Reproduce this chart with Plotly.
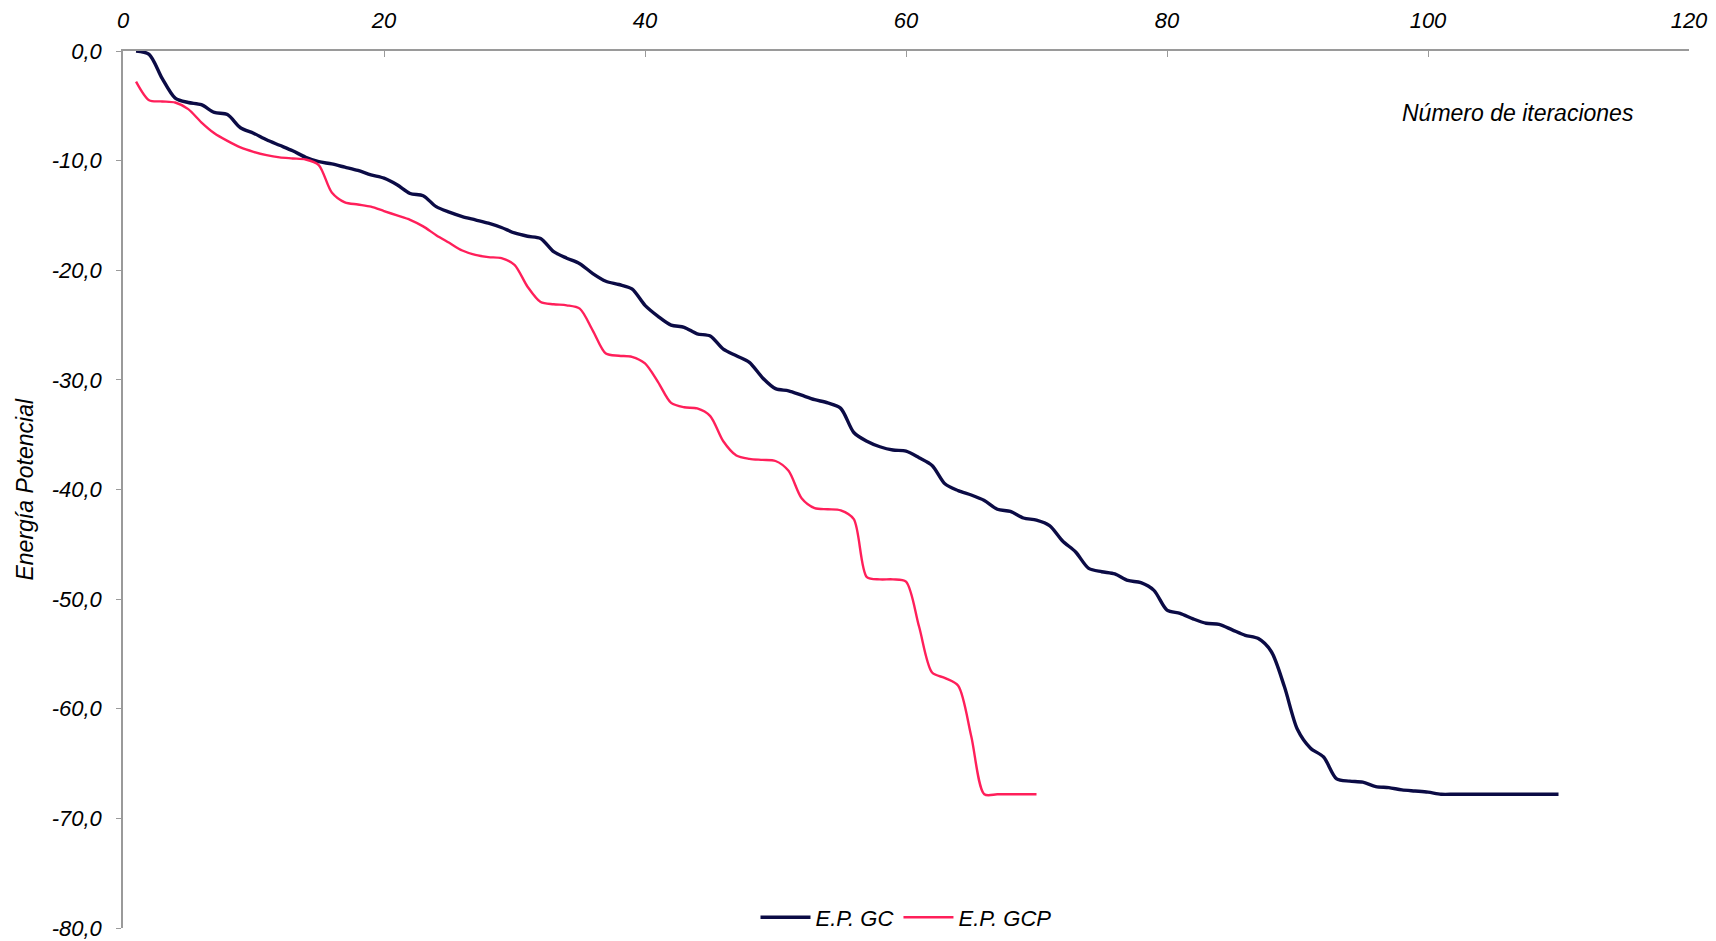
import plotly.graph_objects as go

# ---- data ----
iter_gc = list(range(1, 111))
ep_gc = [
    0.0, -0.3, -2.5, -4.3, -4.7, -4.9, -5.6, -5.8, -7.0, -7.5,
    -8.1, -8.6, -9.1, -9.7, -10.1, -10.3, -10.6, -10.9, -11.3, -11.6,
    -12.2, -13.0, -13.2, -14.2, -14.7, -15.1, -15.4, -15.7, -16.1, -16.6,
    -16.9, -17.1, -18.3, -18.9, -19.4, -20.3, -21.0, -21.3, -21.7, -23.2,
    -24.2, -25.0, -25.2, -25.8, -26.0, -27.2, -27.8, -28.4, -29.8, -30.8,
    -31.0, -31.4, -31.8, -32.1, -32.6, -34.8, -35.6, -36.1, -36.4, -36.5,
    -37.1, -37.8, -39.5, -40.1, -40.5, -41.0, -41.8, -42.0, -42.6, -42.8,
    -43.3, -44.7, -45.7, -47.2, -47.5, -47.7, -48.3, -48.5, -49.2, -51.0,
    -51.3, -51.8, -52.2, -52.3, -52.8, -53.3, -53.6, -54.8, -58.0, -61.9,
    -63.6, -64.4, -66.4, -66.6, -66.7, -67.1, -67.2, -67.4, -67.5, -67.6,
    -67.8, -67.8, -67.8, -67.8, -67.8, -67.8, -67.8, -67.8, -67.8, -67.8,
]

iter_gcp = list(range(1, 71))
ep_gcp = [
    -2.8, -4.5, -4.6, -4.7, -5.3, -6.5, -7.5, -8.2, -8.8, -9.2,
    -9.5, -9.7, -9.8, -9.9, -10.4, -12.9, -13.8, -14.0, -14.2, -14.6,
    -15.0, -15.4, -16.0, -16.8, -17.5, -18.2, -18.6, -18.8, -18.9, -19.5,
    -21.5, -22.9, -23.1, -23.2, -23.5, -25.5, -27.6, -27.8, -27.9, -28.5,
    -30.2, -32.1, -32.5, -32.6, -33.3, -35.6, -36.9, -37.2, -37.3, -37.4,
    -38.3, -40.8, -41.7, -41.8, -41.9, -42.7, -48.0, -48.2, -48.2, -48.4,
    -52.5, -56.7, -57.2, -57.9, -62.5, -67.8, -67.8, -67.8, -67.8, -67.8,
]

series_names = ["E.P. GC", "E.P. GCP"]
x_tickvals = [0, 20, 40, 60, 80, 100, 120]
x_ticktext = ["0", "20", "40", "60", "80", "100", "120"]
y_tickvals = [0, -10, -20, -30, -40, -50, -60, -70, -80]
y_ticktext = ["0,0", "-10,0", "-20,0", "-30,0", "-40,0", "-50,0", "-60,0", "-70,0", "-80,0"]
x_title = "Número de iteraciones"
y_title = "Energía Potencial"

FAM = "Liberation Sans, Arial, sans-serif"
TXT = "#000000"
TICK_SIZE = 22
TITLE_SIZE = 23

fig = go.Figure()
fig.add_trace(go.Scatter(
    x=iter_gc, y=ep_gc, name=series_names[0], mode="lines",
    line=dict(color="#0b0b45", width=3.4, shape="spline", smoothing=0.8),
))
fig.add_trace(go.Scatter(
    x=iter_gcp, y=ep_gcp, name=series_names[1], mode="lines",
    line=dict(color="#ff1f5a", width=2.4, shape="spline", smoothing=0.8),
))

# page body has an 8px default margin, so the figure is sized/offset for it
fig.update_layout(
    width=1708, height=933,
    margin=dict(l=115, r=27, t=43, b=13, autoexpand=False),
    paper_bgcolor="white", plot_bgcolor="white",
    font=dict(family=FAM, size=TICK_SIZE, color=TXT, style="italic"),
    showlegend=True,
    legend=dict(
        orientation="h", x=0.5, y=0.012, xanchor="center", yanchor="middle",
        font=dict(family=FAM, size=TICK_SIZE, color=TXT, style="italic"),
        bgcolor="rgba(0,0,0,0)", itemwidth=50, tracegroupgap=0,
    ),
    xaxis=dict(
        range=[0, 120], side="top", tickvals=x_tickvals, ticktext=x_ticktext,
        showgrid=False, zeroline=False, showline=True, linecolor="#9a9a9a", linewidth=1.5,
        ticks="inside", ticklen=6, tickcolor="#9a9a9a", tickwidth=1.2,
        ticklabelstandoff=12, automargin=False, ticklabeloverflow="allow",
        tickfont=dict(family=FAM, size=TICK_SIZE, color=TXT, style="italic"),
        fixedrange=True,
    ),
    yaxis=dict(
        range=[-80, 0], tickvals=y_tickvals, ticktext=y_ticktext,
        showgrid=False, zeroline=False, showline=True, linecolor="#9a9a9a", linewidth=1.5,
        ticks="outside", ticklen=5, tickcolor="#9a9a9a", tickwidth=1.2,
        ticklabelstandoff=10, automargin=False, ticklabeloverflow="allow",
        tickfont=dict(family=FAM, size=TICK_SIZE, color=TXT, style="italic"),
        fixedrange=True,
    ),
    annotations=[
        dict(text=x_title, xref="paper", yref="paper", x=0.966, y=0.929,
             xanchor="right", yanchor="middle", showarrow=False,
             font=dict(family=FAM, size=TITLE_SIZE, color=TXT, style="italic")),
        dict(text=y_title, xref="paper", yref="paper", x=-0.0632, y=0.5,
             xanchor="center", yanchor="middle", showarrow=False, textangle=-90,
             font=dict(family=FAM, size=TITLE_SIZE, color=TXT, style="italic")),
    ],
)

fig.write_html("out.html")
